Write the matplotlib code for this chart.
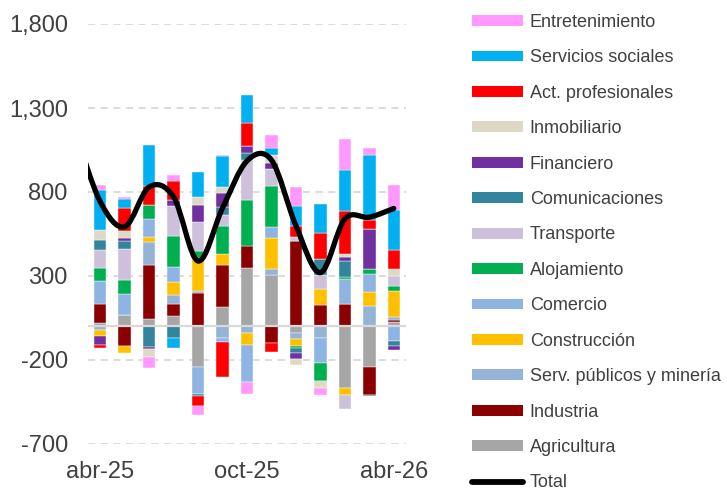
import numpy as np
import matplotlib
matplotlib.use("Agg")
import matplotlib.pyplot as plt
from matplotlib.path import Path
from matplotlib.patches import PathPatch, Patch
from matplotlib.lines import Line2D
from matplotlib.ticker import FuncFormatter

plt.rcParams['font.family'] = ['Liberation Sans', 'DejaVu Sans']

months = ["abr-25", "may-25", "jun-25", "jul-25", "ago-25", "sep-25", "oct-25",
          "nov-25", "dic-25", "ene-26", "feb-26", "mar-26", "abr-26"]
tick_labels = ["abr-25", "oct-25", "abr-26"]

# stacking order (bottom -> top)
agricultura      = [20, 66, 46, 60, -240, 117, 345, 308, -40, 0, -367, -244, 26]
industria        = [113, -115, 317, 73, 196, 246, 131, -100, 506, 129, 133, -165, 10]
serv_publicos    = [-20, 0, 137, 52, 12, -70, -40, 34, -36, -71, 0, 123, 20]
construccion     = [-36, -44, 34, 77, 202, 67, -69, 185, -40, 93, -40, 81, 153]
comercio         = [135, 127, 107, 91, -165, -24, -220, 65, 0, -147, 151, 107, -87]
alojamiento      = [80, 85, 81, 188, 40, 165, 278, 246, -12, -109, 8, 30, 30]
transporte       = [105, 185, 0, 173, 173, 69, 234, 99, 24, 85, -83, 0, 63]
comunicaciones   = [64, 44, -123, -70, -10, 48, 44, 0, -28, 95, 95, -5, -30]
financiero       = [-54, 20, -10, 36, 101, 85, 40, 36, -40, 0, 28, 240, -26]
inmobiliario     = [54, 40, -50, 0, 46, 30, 0, 46, -34, -40, 18, 0, 42]
act_prof         = [-20, 139, 111, 113, -56, -210, 139, -50, 65, 153, 252, 54, 113]
serv_sociales    = [238, 54, 244, -56, 147, 186, 169, 40, 123, 175, 244, 387, 234]
entretenimiento  = [34, 8, -65, 36, -54, 8, -71, 83, 111, -40, 188, 40, 153]

# Total line (first value is mar-25, the line starts before the first bar)
total_months = ["mar-25"] + months
total = [1150, 742, 593, 830, 770, 389, 705, 985, 990, 600, 320, 640, 650, 702]

series = [
    ("Agricultura", agricultura, "#A6A6A6"),
    ("Industria", industria, "#8B0000"),
    ("Serv. públicos y minería", serv_publicos, "#95B3D7"),
    ("Construcción", construccion, "#FFC000"),
    ("Comercio", comercio, "#8DB4E2"),
    ("Alojamiento", alojamiento, "#00B050"),
    ("Transporte", transporte, "#CCC0DA"),
    ("Comunicaciones", comunicaciones, "#31859C"),
    ("Financiero", financiero, "#7030A0"),
    ("Inmobiliario", inmobiliario, "#DDD9C4"),
    ("Act. profesionales", act_prof, "#FF0000"),
    ("Servicios sociales", serv_sociales, "#00B0F0"),
    ("Entretenimiento", entretenimiento, "#FF99FF"),
]

W, H = 727, 495
fig = plt.figure(figsize=(W / 100, H / 100), dpi=100)
ax = fig.add_axes([88 / W, 1 - 444 / H, (406 - 88) / W, (444 - 24) / H])

x = np.arange(len(months))
pos_bottom = np.zeros(len(months))
neg_bottom = np.zeros(len(months))
handles = []
for name, vals, col in series:
    v = np.array(vals, dtype=float)
    bottom = np.where(v >= 0, pos_bottom, neg_bottom)
    ax.bar(x, v, width=0.51, bottom=bottom, color=col, edgecolor='white',
           linewidth=0.3, zorder=3)
    pos_bottom += np.where(v >= 0, v, 0)
    neg_bottom += np.where(v < 0, v, 0)
    handles.append(Patch(facecolor=col, edgecolor='none', label=name))

ax.axhline(0, color='#D9D9D9', lw=1.6, zorder=4)

# smoothed total line (Bezier through the points, Excel-style)
tx = np.arange(-1, len(months)).astype(float)
ty = np.array(total, dtype=float)
pts = np.column_stack([tx, ty])
n = len(pts)
verts = [tuple(pts[0])]
codes = [Path.MOVETO]
for i in range(n - 1):
    p_prev = pts[i - 1] if i > 0 else pts[i]
    p_next = pts[i + 2] if i + 2 < n else pts[i + 1]
    c1 = pts[i] + (pts[i + 1] - p_prev) / 6.0
    c2 = pts[i + 1] - (p_next - pts[i]) / 6.0
    verts += [tuple(c1), tuple(c2), tuple(pts[i + 1])]
    codes += [Path.CURVE4] * 3
line_patch = PathPatch(Path(verts, codes), fill=False, lw=3.8, edgecolor='black',
                       capstyle='round', joinstyle='round', zorder=6)
ax.add_patch(line_patch)

ax.set_xlim(-0.5, len(months) - 0.5)
ax.set_ylim(-700, 1800)
ax.set_yticks([-700, -200, 300, 800, 1300, 1800])
ax.yaxis.set_major_formatter(FuncFormatter(lambda v, p: f"{int(v):,}"))
ax.set_xticks([months.index(t) for t in tick_labels])
ax.set_xticklabels(tick_labels)
ax.tick_params(axis='both', length=0, labelsize=17, colors='#404040')
ax.tick_params(axis='y', pad=14.5)
ax.tick_params(axis='x', pad=12)
ax.yaxis.grid(True, linestyle=(0, (4, 3)), color='#D9D9D9', lw=1.3, zorder=0)
ax.set_axisbelow(True)
for s in ax.spines.values():
    s.set_visible(False)

leg_handles = handles[::-1] + [Line2D([0], [0], color='black', lw=4.2,
                                      solid_capstyle='round')]
leg_labels = [h.get_label() for h in handles[::-1]] + ["Total"]
leg = ax.legend(leg_handles, leg_labels, loc='upper left',
                bbox_to_anchor=(472 / W, 1 - 14 / H), bbox_transform=fig.transFigure,
                frameon=False, fontsize=13, handlelength=2.85, handleheight=0.55,
                handletextpad=0.35, labelspacing=1.02, borderpad=0, borderaxespad=0)
for t in leg.get_texts():
    t.set_color('#404040')

fig.savefig("out.png", dpi=100)
